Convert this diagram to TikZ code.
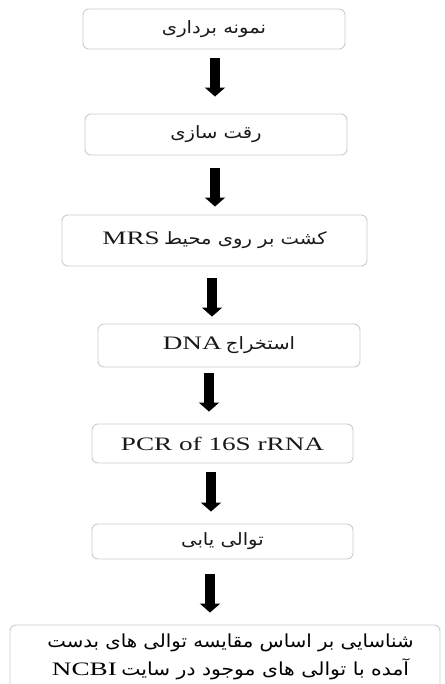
\documentclass[tikz,border=0pt]{standalone}
\usepackage{fontspec}
\usepackage{graphicx}
\setmainfont{Liberation Serif}
\newfontfamily\fa[Script=Arabic]{DejaVu Sans}
\TeXXeTstate=1
\usetikzlibrary{arrows.meta,calc}
\newcommand\fatxt[2][1.15]{\scalebox{#1}[1]{\fa\beginR #2\endR}}
\newcommand\lat[1]{\scalebox{1.43}[1]{\fontsize{19}{22}\selectfont #1}}
\tikzset{
  box/.style={draw=black!20, line width=0.9pt, rounded corners=6pt, inner sep=0pt,
    text=black!90, font=\fontsize{17}{20}\selectfont},
  arr/.style={line width=10pt, line cap=butt, draw=black,
    -{Triangle[width=20pt,length=9pt]}}
}
\begin{document}
\begin{tikzpicture}[x=1pt,y=1pt]
\clip (0,0) rectangle (444,-684);
\fill[white] (0,0) rectangle (444,-684);
\node[box, minimum width=262pt, minimum height=40pt] (b1) at (214,-29)
  {\fatxt{نمونه برداری}};
\node[box, minimum width=262pt, minimum height=41pt] (b2) at (216,-134.5)
  {\fatxt{رقت سازی}};
\node[box, minimum width=305pt, minimum height=51pt] (b3) at (214.5,-240.5)
  {\lat{MRS} \fatxt{کشت بر روی محیط}};
\node[box, minimum width=262pt, minimum height=43pt] (b4) at (229,-345.5)
  {\lat{DNA} \fatxt{استخراج}};
\node[box, minimum width=261pt, minimum height=39pt] (b5) at (222.5,-443.5)
  {\lat{PCR of 16S rRNA}};
\node[box, minimum width=261pt, minimum height=35pt] (b6) at (222.5,-541.5)
  {\fatxt{توالی یابی}};
\node[box, minimum width=430pt, minimum height=67pt] (b7) at (225,-658.5) {};
\node[align=center, inner sep=0pt, text=black,
  font=\fontsize{18}{28}\selectfont] (t7) at ($(b7.center)+(5.5,2)$)
  {\fatxt[1.095]{شناسایی بر اساس مقایسه توالی های بدست}\\
   \lat{NCBI} \fatxt[1.13]{آمده با توالی های موجود در سایت}};
\draw[arr] ($(b1.south)+(1,-9)$) -- ($(b2.north)+(-1,17)$);
\draw[arr] ($(b2.south)+(-1,-13)$) -- ($(b3.north)+(0.5,8)$);
\draw[arr] ($(b3.south)+(-2.5,-12)$) -- ($(b4.north)+(-17,7)$);
\draw[arr] ($(b4.south)+(-20,-6)$) -- ($(b5.north)+(-13.5,12)$);
\draw[arr] ($(b5.south)+(-11.5,-9)$) -- ($(b6.north)+(-11.5,12)$);
\draw[arr] ($(b6.south)+(-12.5,-15)$) -- ($(b7.north)+(-15,12)$);
\end{tikzpicture}
\end{document}
